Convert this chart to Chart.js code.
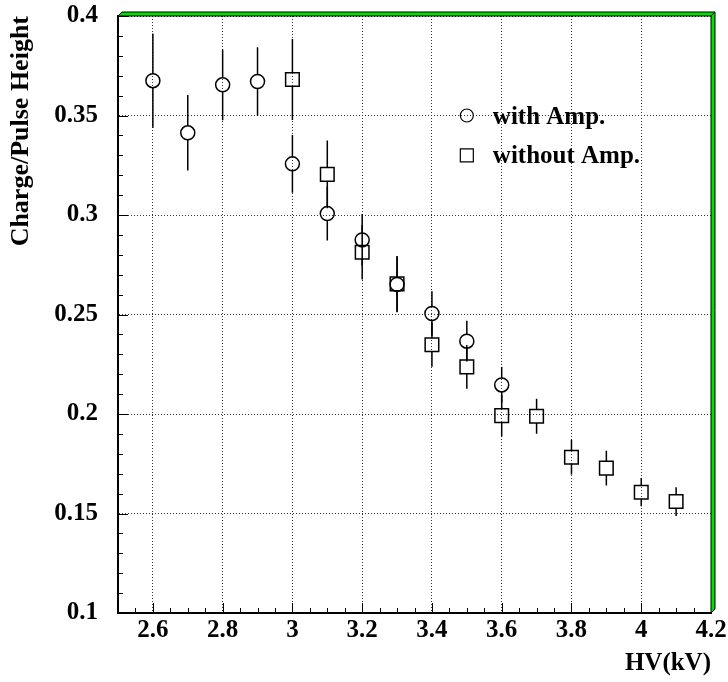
<!DOCTYPE html>
<html>
<head>
<meta charset="utf-8">
<script src="https://cdn.jsdelivr.net/npm/chart.js@4/dist/chart.umd.min.js"></script>
<style>
body { margin: 0; background: #fff; }
</style>
</head>
<body>
<canvas id="chart" width="728" height="682"></canvas>
<script>
// With amplifier (circles)
const hvAmp = [2.6, 2.7, 2.8, 2.9, 3.0, 3.1, 3.2, 3.3, 3.4, 3.5, 3.6];
const ratioAmp = [0.3675, 0.3413, 0.3654, 0.3671, 0.3257, 0.3007, 0.2875, 0.2651, 0.2505, 0.2366, 0.2146];
const errAmp = [0.0237, 0.019, 0.0178, 0.0172, 0.0145, 0.0135, 0.013, 0.014, 0.0112, 0.0102, 0.009];

// Without amplifier (squares)
const hvNoAmp = [3.0, 3.1, 3.2, 3.3, 3.4, 3.5, 3.6, 3.7, 3.8, 3.9, 4.0, 4.1];
const ratioNoAmp = [0.3681, 0.3204, 0.2813, 0.2654, 0.2348, 0.2237, 0.1992, 0.1989, 0.1783, 0.1728, 0.1607, 0.156];
const errNoAmp = [0.0204, 0.017, 0.0137, 0.014, 0.0111, 0.011, 0.0105, 0.0088, 0.0087, 0.0087, 0.0071, 0.0072];

const xTicks = [2.6, 2.8, 3.0, 3.2, 3.4, 3.6, 3.8, 4.0, 4.2];
const yTicks = [0.1, 0.15, 0.2, 0.25, 0.3, 0.35, 0.4];
const legendLabels = ['with Amp.', 'without Amp.'];
const xTitle = 'HV(kV)';
const yTitle = 'Charge/Pulse Height';

const FAMILY = '"Liberation Serif", "Times New Roman", serif';

function toPoints(xs, ys) {
    return xs.map((v, i) => ({x: v, y: ys[i]}));
}

// error bars, inside ticks, green frame and legend
const hepPlugin = {
    id: 'hep',
    beforeDatasetsDraw(chart) {
        const {ctx, scales: {x, y}} = chart;
        ctx.save();
        ctx.strokeStyle = '#000';
        ctx.lineWidth = 1.5;
        chart.data.datasets.forEach(ds => {
            ds.data.forEach((p, i) => {
                const e = ds.errors[i];
                const px = x.getPixelForValue(p.x);
                const py = y.getPixelForValue(p.y);
                const top = y.getPixelForValue(p.y + e);
                const bot = y.getPixelForValue(p.y - e);
                ctx.beginPath();
                if (top < py - ds.gap) { ctx.moveTo(px, top); ctx.lineTo(px, py - ds.gap); }
                if (bot > py + ds.gap) { ctx.moveTo(px, py + ds.gap); ctx.lineTo(px, bot); }
                ctx.stroke();
            });
        });
        ctx.restore();
    },
    afterDraw(chart) {
        const {ctx, chartArea: a, scales: {x, y}} = chart;
        ctx.save();
        // ticks pointing into the frame
        ctx.strokeStyle = '#000';
        ctx.lineWidth = 1;
        ctx.beginPath();
        for (let i = 0; i <= 30; i++) {
            const py = Math.round(y.getPixelForValue(0.1 + i * 0.01)) + 0.5;
            const len = i % 5 === 0 ? 10 : 5;
            ctx.moveTo(a.left, py);
            ctx.lineTo(a.left + len, py);
        }
        for (let i = 0; i <= 34; i++) {
            const px = Math.round(x.getPixelForValue(2.5 + i * 0.05)) + 0.5;
            const len = i % 4 === 2 ? 10 : 5;
            ctx.moveTo(px, a.bottom);
            ctx.lineTo(px, a.bottom - len);
        }
        ctx.stroke();

        // green bevel on top and right
        const d = 4;
        ctx.fillStyle = '#00dd00';
        ctx.strokeStyle = '#000';
        ctx.lineWidth = 1;
        ctx.beginPath();
        ctx.moveTo(a.left, a.top);
        ctx.lineTo(a.left + d, a.top - d);
        ctx.lineTo(a.right + d, a.top - d);
        ctx.lineTo(a.right, a.top);
        ctx.closePath();
        ctx.fill();
        ctx.stroke();
        ctx.beginPath();
        ctx.moveTo(a.right, a.top);
        ctx.lineTo(a.right + d, a.top - d);
        ctx.lineTo(a.right + d, a.bottom - d);
        ctx.lineTo(a.right, a.bottom);
        ctx.closePath();
        ctx.fill();
        ctx.stroke();

        // legend inside the frame
        const lx = x.getPixelForValue(3.5);
        const rows = [0.35, 0.33];
        ctx.lineWidth = 1.2;
        ctx.font = 'bold 25px ' + FAMILY;
        ctx.fillStyle = '#000';
        ctx.textBaseline = 'alphabetic';
        rows.forEach((v, i) => {
            const ly = y.getPixelForValue(v);
            ctx.beginPath();
            if (i === 0) {
                ctx.arc(lx, ly, 6.5, 0, Math.PI * 2);
            } else {
                ctx.rect(lx - 6.5, ly - 6.5, 13, 13);
            }
            ctx.stroke();
            ctx.fillText(legendLabels[i], lx + 26, ly + 8);
        });
        ctx.restore();
    }
};

const tickFont = {family: FAMILY, size: 25, weight: 'bold'};

new Chart(document.getElementById('chart'), {
    type: 'scatter',
    data: {
        datasets: [
            {
                label: legendLabels[0],
                data: toPoints(hvAmp, ratioAmp),
                errors: errAmp,
                gap: 7,
                pointStyle: 'circle',
                pointRadius: 7,
                pointBorderWidth: 1.5,
                borderColor: '#000',
                backgroundColor: 'rgba(0,0,0,0)'
            },
            {
                label: legendLabels[1],
                data: toPoints(hvNoAmp, ratioNoAmp),
                errors: errNoAmp,
                gap: 6.8,
                pointStyle: 'rect',
                pointRadius: 9.6,
                pointBorderWidth: 1.5,
                borderColor: '#000',
                backgroundColor: 'rgba(0,0,0,0)'
            }
        ]
    },
    options: {
        responsive: false,
        animation: false,
        events: [],
        layout: {padding: {top: 16, right: 17, left: 0, bottom: 0}},
        plugins: {legend: {display: false}, tooltip: {enabled: false}},
        scales: {
            x: {
                type: 'linear',
                min: 2.5,
                max: 4.2,
                afterBuildTicks: s => { s.ticks = xTicks.map(v => ({value: v})); },
                afterFit: s => { s.height = 69; s.paddingLeft = 0; s.paddingRight = 0; },
                grid: {color: '#333', lineWidth: 1, drawTicks: false},
                border: {display: true, color: '#000', width: 2, dash: [1, 2]},
                ticks: {
                    font: tickFont, color: '#000', padding: 3,
                    maxRotation: 0, autoSkip: false,
                    callback: v => String(Math.round(v * 100) / 100)
                },
                title: {display: true, text: xTitle, align: 'end', color: '#000',
                    font: tickFont, padding: {top: 0, bottom: 3}}
            },
            y: {
                type: 'linear',
                min: 0.1,
                max: 0.4,
                afterBuildTicks: s => { s.ticks = yTicks.map(v => ({value: v})); },
                afterFit: s => { s.width = 118; s.paddingTop = 0; s.paddingBottom = 0; },
                grid: {color: '#333', lineWidth: 1, drawTicks: false},
                border: {display: true, color: '#000', width: 2, dash: [1, 2]},
                ticks: {
                    font: tickFont, color: '#000', padding: 20,
                    callback: v => String(Math.round(v * 100) / 100)
                },
                title: {display: true, text: yTitle, align: 'end', color: '#000',
                    font: {family: FAMILY, size: 26, weight: 'bold'}, padding: {top: 6, bottom: 0}}
            }
        }
    },
    plugins: [hepPlugin]
});
</script>
</body>
</html>
